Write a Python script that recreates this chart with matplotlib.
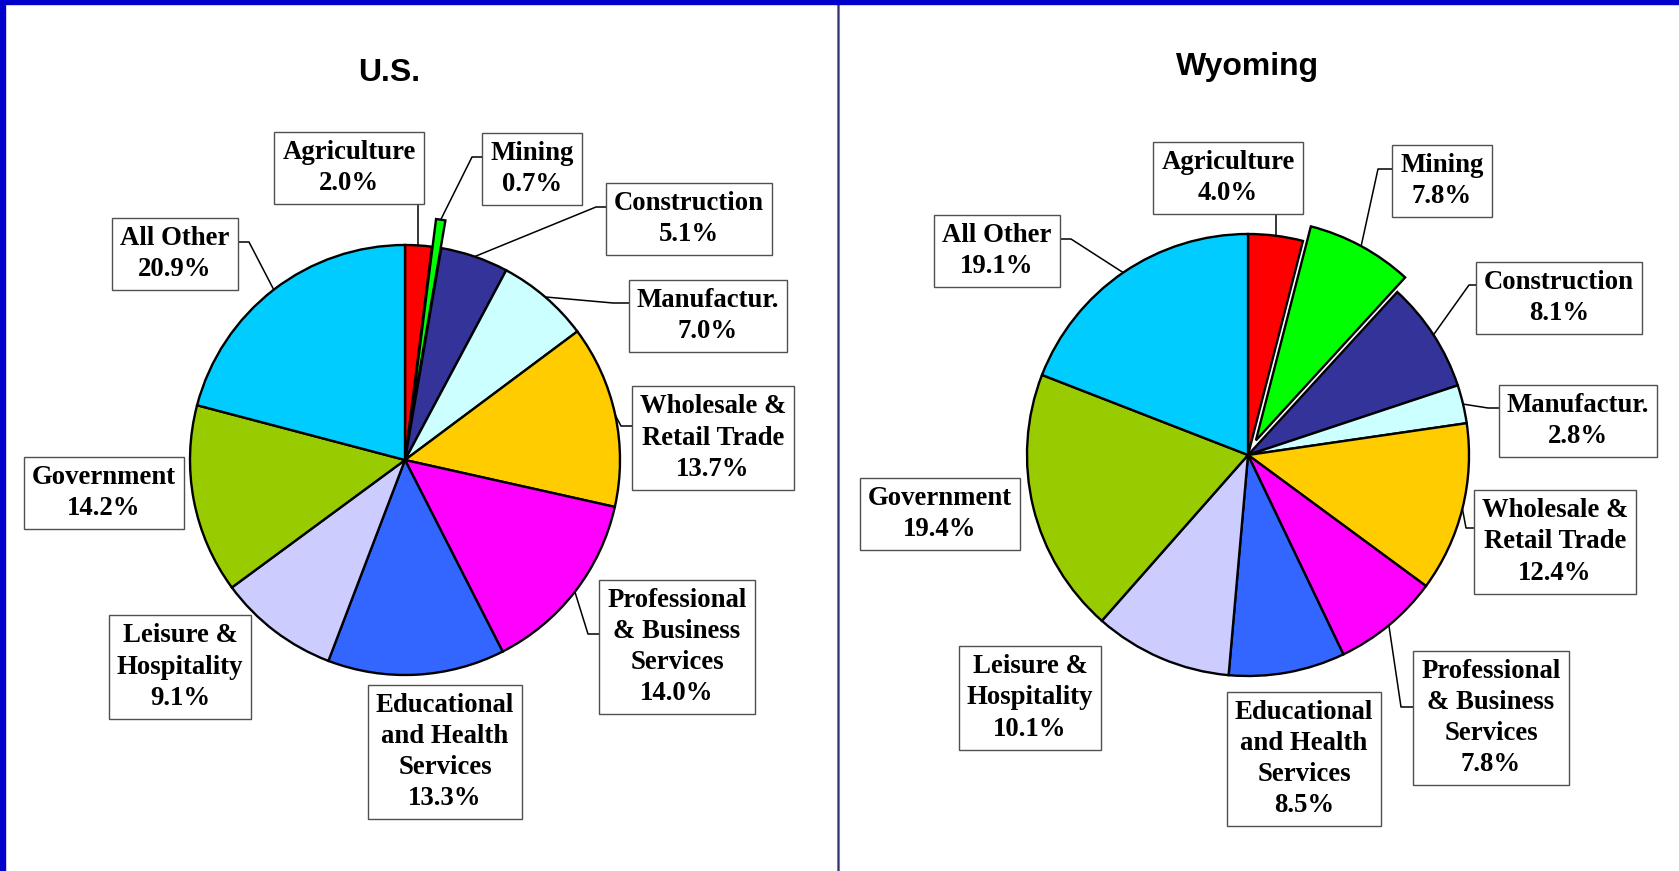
import matplotlib.pyplot as plt
import numpy as np
from matplotlib.patches import Rectangle

# employment share by industry
sectors = ['Agriculture', 'Mining', 'Construction', 'Manufactur.',
           'Wholesale &\nRetail Trade', 'Professional\n& Business\nServices',
           'Educational\nand Health\nServices', 'Leisure &\nHospitality',
           'Government', 'All Other']
us_share = [2.0, 0.7, 5.1, 7.0, 13.7, 14.0, 13.3, 9.1, 14.2, 20.9]
wy_share = [4.0, 7.8, 8.1, 2.8, 12.4, 7.8, 8.5, 10.1, 19.4, 19.1]
colors = ['#FF0000', '#00FF00', '#333399', '#CCFFFF', '#FFCC00',
          '#FF00FF', '#3366FF', '#CCCCFF', '#99CC00', '#00CCFF']

W, H = 1679, 871

# layout in pixels (y measured from the top)
us_center, us_radius = (405, 460), 215
wy_center, wy_radius = (1248, 455), 221
us_explode = [0, 0.13, 0, 0, 0, 0, 0, 0, 0, 0]   # fraction of radius
wy_explode = [0, 0.075, 0, 0, 0, 0, 0, 0, 0, 0]

us_boxes = [(349, 168), (532, 169), (689, 219), (708, 316), (713, 438),
            (677, 647), (445, 752), (180, 667), (104, 493), (175, 254)]
wy_boxes = [(1228, 178), (1442, 181), (1559, 298), (1578, 421), (1555, 542),
            (1491, 718), (1304, 759), (1030, 698), (940, 514), (997, 251)]
# leader lines: 'v' = straight up, (x, y) = elbow, None = no line
us_leaders = ['v', (472, 157), (596, 207), (613, 303), (621, 426),
              (588, 634), None, None, None, (249, 242)]
wy_leaders = ['v', (1378, 169), (1469, 285), (1488, 408), (1466, 528),
              (1401, 707), None, None, None, (1071, 239)]

fig = plt.figure(figsize=(W / 100, H / 100), dpi=100)
ax = fig.add_axes([0, 0, 1, 1])


def draw_pie(share, center, radius, explode, boxes, leaders):
    wedges, _ = ax.pie(share, colors=colors, startangle=90, counterclock=False,
                       center=(center[0], H - center[1]), radius=radius,
                       explode=[e * radius for e in explode],
                       wedgeprops=dict(edgecolor='black', linewidth=1.7))
    for wdg, name, val, box, lead in zip(wedges, sectors, share, boxes, leaders):
        ax.text(box[0], H - box[1], f'{name}\n{val:.1f}%', ha='center', va='center',
                fontsize=19.3, fontweight='bold', family='Liberation Serif',
                linespacing=1.33, zorder=6,
                bbox=dict(boxstyle='square,pad=0.3', fc='white', ec='#505050', lw=1))
        if lead is None:
            continue
        mid = np.deg2rad((wdg.theta1 + wdg.theta2) / 2)
        px = wdg.center[0] + wdg.r * np.cos(mid)
        py = wdg.center[1] + wdg.r * np.sin(mid)
        if lead == 'v':
            xs, ys = [px, px], [py, H - box[1]]
        else:
            xs = [px, lead[0], box[0]]
            ys = [py, H - lead[1], H - lead[1]]
        ax.plot(xs, ys, color='black', lw=1.1, zorder=4, solid_capstyle='butt')


draw_pie(us_share, us_center, us_radius, us_explode, us_boxes, us_leaders)
draw_pie(wy_share, wy_center, wy_radius, wy_explode, wy_boxes, wy_leaders)

ax.text(389, H - 81, 'U.S.', ha='center', va='baseline', fontsize=23,
        fontweight='bold', family='Liberation Sans')
ax.text(1248, H - 75, 'Wyoming', ha='center', va='baseline', fontsize=23,
        fontweight='bold', family='Liberation Sans')

# frame and divider
ax.add_patch(Rectangle((0, H - 4), W, 4, color='#0000CC', zorder=10))
ax.add_patch(Rectangle((0, 0), 5, H, color='#0000CC', zorder=10))
ax.plot([838, 838], [0, H], color='#8888AA', lw=2.2, zorder=9)
ax.plot([838, 838], [0, H], color='#303070', lw=0.9, zorder=9)

ax.set_xlim(0, W)
ax.set_ylim(0, H)
ax.set_aspect('equal')
ax.axis('off')

fig.savefig('out.png', dpi=100, facecolor='white')
